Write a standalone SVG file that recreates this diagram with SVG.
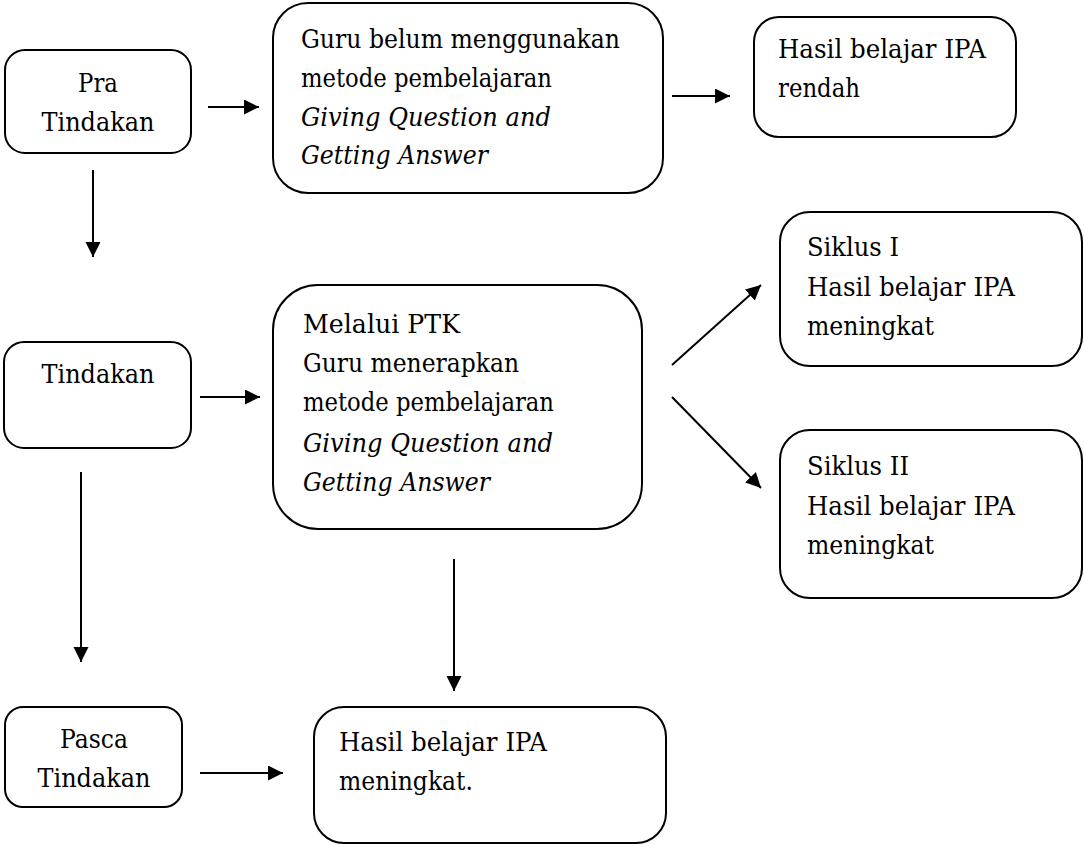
<svg xmlns="http://www.w3.org/2000/svg" width="1084" height="845" viewBox="0 0 1084 845">
<style>
.box{fill:#fff;stroke:#000;stroke-width:2}
.t{font-family:'DejaVu Serif','Liberation Serif',serif;font-size:26px;fill:#000}
.c{text-anchor:middle}
.i{font-style:italic}
.ln{stroke:#000;stroke-width:2;fill:none;marker-end:url(#ah)}
</style>
<defs>
<marker id="ah" markerUnits="userSpaceOnUse" markerWidth="16" markerHeight="16" refX="15" refY="7.5" orient="auto">
<path d="M0,0 L15,7.5 L0,15 z" fill="#000"/>
</marker>
</defs>
<rect width="1084" height="845" fill="#fff"/>
<g id="connectors">
<line class="ln" x1="208" y1="107" x2="259" y2="107"/>
<line class="ln" x1="672" y1="96" x2="730" y2="96"/>
<line class="ln" x1="93" y1="170" x2="93" y2="257"/>
<line class="ln" x1="200" y1="397" x2="260" y2="397"/>
<line class="ln" x1="672" y1="365" x2="761" y2="285"/>
<line class="ln" x1="672" y1="397" x2="761" y2="488"/>
<line class="ln" x1="81" y1="472" x2="81" y2="662"/>
<line class="ln" x1="454" y1="559" x2="454" y2="691"/>
<line class="ln" x1="200" y1="773" x2="283" y2="773"/>
</g>
<g id="pra">
<rect class="box" x="5" y="50" width="186" height="103" rx="20"/>
<text class="t c" x="98" y="92" textLength="40" lengthAdjust="spacingAndGlyphs">Pra</text>
<text class="t c" x="98" y="131" textLength="113" lengthAdjust="spacingAndGlyphs">Tindakan</text>
</g>
<g id="guru-belum">
<rect class="box" x="273" y="3" width="390" height="190" rx="35"/>
<text class="t" x="301" y="48" textLength="319" lengthAdjust="spacingAndGlyphs">Guru belum menggunakan</text>
<text class="t" x="301" y="87" textLength="251" lengthAdjust="spacingAndGlyphs">metode pembelajaran</text>
<text class="t i" x="301" y="126" textLength="250" lengthAdjust="spacingAndGlyphs">Giving Question and</text>
<text class="t i" x="301" y="164" textLength="187" lengthAdjust="spacingAndGlyphs">Getting Answer</text>
</g>
<g id="hasil-rendah">
<rect class="box" x="754" y="17" width="262" height="120" rx="25"/>
<text class="t" x="778" y="58" textLength="208" lengthAdjust="spacingAndGlyphs">Hasil belajar IPA</text>
<text class="t" x="778" y="97" textLength="82" lengthAdjust="spacingAndGlyphs">rendah</text>
</g>
<g id="tindakan">
<rect class="box" x="4" y="342" width="187" height="106" rx="20"/>
<text class="t c" x="98" y="383" textLength="113" lengthAdjust="spacingAndGlyphs">Tindakan</text>
</g>
<g id="melalui">
<rect class="box" x="273" y="285" width="369" height="244" rx="45"/>
<text class="t" x="303" y="333" textLength="157" lengthAdjust="spacingAndGlyphs">Melalui PTK</text>
<text class="t" x="303" y="372" textLength="216" lengthAdjust="spacingAndGlyphs">Guru menerapkan</text>
<text class="t" x="303" y="411" textLength="251" lengthAdjust="spacingAndGlyphs">metode pembelajaran</text>
<text class="t i" x="303" y="452" textLength="250" lengthAdjust="spacingAndGlyphs">Giving Question and</text>
<text class="t i" x="303" y="491" textLength="187" lengthAdjust="spacingAndGlyphs">Getting Answer</text>
</g>
<g id="siklus1">
<rect class="box" x="780" y="212" width="302" height="154" rx="30"/>
<text class="t" x="807" y="256" textLength="92" lengthAdjust="spacingAndGlyphs">Siklus I</text>
<text class="t" x="807" y="296" textLength="208" lengthAdjust="spacingAndGlyphs">Hasil belajar IPA</text>
<text class="t" x="807" y="335" textLength="127" lengthAdjust="spacingAndGlyphs">meningkat</text>
</g>
<g id="siklus2">
<rect class="box" x="780" y="430" width="302" height="168" rx="30"/>
<text class="t" x="807" y="475" textLength="102" lengthAdjust="spacingAndGlyphs">Siklus II</text>
<text class="t" x="807" y="515" textLength="208" lengthAdjust="spacingAndGlyphs">Hasil belajar IPA</text>
<text class="t" x="807" y="554" textLength="127" lengthAdjust="spacingAndGlyphs">meningkat</text>
</g>
<g id="pasca">
<rect class="box" x="5" y="707" width="177" height="100" rx="18"/>
<text class="t c" x="94" y="748" textLength="68" lengthAdjust="spacingAndGlyphs">Pasca</text>
<text class="t c" x="94" y="787" textLength="113" lengthAdjust="spacingAndGlyphs">Tindakan</text>
</g>
<g id="hasil-meningkat">
<rect class="box" x="314" y="707" width="352" height="136" rx="30"/>
<text class="t" x="339" y="751" textLength="208" lengthAdjust="spacingAndGlyphs">Hasil belajar IPA</text>
<text class="t" x="339" y="790" textLength="134" lengthAdjust="spacingAndGlyphs">meningkat.</text>
</g>
</svg>
